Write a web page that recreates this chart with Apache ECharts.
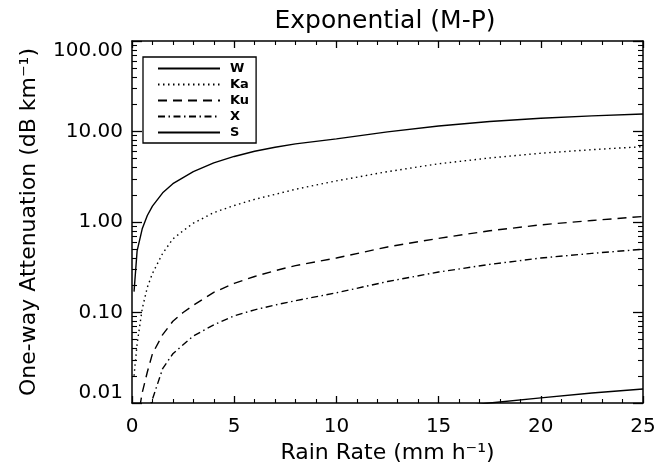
<!DOCTYPE html>
<html>
<head>
<meta charset="utf-8">
<script src="https://cdn.jsdelivr.net/npm/echarts@6/dist/echarts.min.js"></script>
<style>
  html, body { margin: 0; padding: 0; background: #fff; }
  #chart { width: 670px; height: 466px; }
</style>
</head>
<body>
<div id="chart"></div>
<script>
// ---- data ----
const rainRate = [0.1, 0.25, 0.5, 0.75, 1, 1.5, 2, 2.5, 3, 4, 5, 6, 7, 8, 10, 12.5, 15, 17.5, 20, 22.5, 25];
const attW  = [0.17, 0.48, 0.84, 1.18, 1.5, 2.1, 2.65, 3.1, 3.6, 4.5, 5.3, 6.05, 6.7, 7.3, 8.3, 9.9, 11.5, 12.9, 14.0, 14.9, 15.6];
const attKa = [0.02, 0.045, 0.11, 0.19, 0.27, 0.45, 0.65, 0.8, 0.97, 1.27, 1.52, 1.78, 2.02, 2.3, 2.85, 3.6, 4.4, 5.1, 5.75, 6.3, 6.8];
const attKu = [0.002, 0.006, 0.013, 0.022, 0.035, 0.057, 0.08, 0.1, 0.12, 0.167, 0.21, 0.25, 0.29, 0.33, 0.40, 0.53, 0.66, 0.8, 0.93, 1.04, 1.15];
const attX  = [0.0005, 0.0015, 0.004, 0.0075, 0.011, 0.024, 0.035, 0.044, 0.055, 0.073, 0.092, 0.107, 0.121, 0.135, 0.165, 0.22, 0.28, 0.34, 0.40, 0.45, 0.50];
const attS  = [0.00006, 0.00015, 0.0003, 0.00044, 0.0006, 0.0009, 0.0012, 0.0015, 0.0018, 0.0023, 0.0029, 0.0035, 0.0041, 0.0046, 0.0058, 0.0072, 0.0086, 0.0100, 0.0114, 0.0129, 0.0143];
const seriesNames = ['W', 'Ka', 'Ku', 'X', 'S'];
const xTicks = [0, 5, 10, 15, 20, 25];
const yTickLabels = ['0.01', '0.10', '1.00', '10.00', '100.00'];
const yMajorTicks = [0.01, 0.1, 1, 10, 100];
const yMinorTicks = [];
for (let d = 0; d < yMajorTicks.length - 1; d++) {
  for (let k = 2; k <= 9; k++) yMinorTicks.push(+(k * yMajorTicks[d]).toPrecision(3));
}

const titleText = 'Exponential (M-P)';
const xName = 'Rain Rate (mm h\u207B\u00B9)';
const yName = 'One-way Attenuation (dB km\u207B\u00B9)';

// ---- styling ----
const FONT = 'DejaVu Sans';
const BLACK = '#000';
const dashStyles = ['solid', [1.5, 3.5], [9, 6], [7, 3.5, 1.5, 3.5], 'solid'];
const values = [attW, attKa, attKu, attX, attS];

function xAxisCfg(pos, labels) {
  return {
    type: 'value', position: pos, min: 0, max: 25, interval: 5,
    axisLine: { show: true, onZero: false, lineStyle: { color: BLACK, width: 1.5 } },
    axisTick: { show: true, inside: true, length: 7, lineStyle: { color: BLACK, width: 1.3 } },
    minorTick: { show: true, splitNumber: 5, length: 4, lineStyle: { color: BLACK, width: 1.1 } },
    splitLine: { show: false }, minorSplitLine: { show: false },
    axisLabel: { show: labels, color: BLACK, fontFamily: FONT, fontSize: 20, margin: 14 },
    name: labels ? xName : '',
    nameLocation: 'middle', nameGap: 35,
    nameTextStyle: { color: BLACK, fontFamily: FONT, fontSize: 22 }
  };
}
function yAxisCfg(pos, labels, minor) {
  return {
    type: 'log', logBase: 10, min: 0.01, max: 100, position: pos,
    axisLine: { show: !minor, onZero: false, lineStyle: { color: BLACK, width: 1.5 } },
    axisTick: minor
      ? { show: true, inside: true, length: 5, customValues: yMinorTicks, lineStyle: { color: BLACK, width: 1.1 } }
      : { show: true, inside: true, length: 10, customValues: yMajorTicks, lineStyle: { color: BLACK, width: 1.3 } },
    minorTick: { show: false },
    splitLine: { show: false }, minorSplitLine: { show: false },
    axisLabel: {
      show: labels, color: BLACK, fontFamily: FONT, fontSize: 20, margin: 9,
      customValues: labels ? yMajorTicks : undefined,
      formatter: function (v) {
        const i = yMajorTicks.findIndex(t => Math.abs(Math.log10(t) - Math.log10(v)) < 1e-6);
        return i >= 0 ? yTickLabels[i] : '';
      },
      verticalAlignMinLabel: 'bottom',
      verticalAlignMaxLabel: 'top'
    },
    name: labels ? yName : '',
    nameLocation: 'middle', nameGap: 92,
    nameTextStyle: { color: BLACK, fontFamily: FONT, fontSize: 22 }
  };
}

const chart = echarts.init(document.getElementById('chart'), null, { renderer: 'canvas' });
chart.setOption({
  animation: false,
  backgroundColor: '#fff',
  color: [BLACK, BLACK, BLACK, BLACK, BLACK],
  grid: { left: 132, right: 27, top: 41, bottom: 63, containLabel: false, outerBoundsMode: 'none' },
  graphic: [{
    type: 'text', x: 385, y: 21,
    style: { text: titleText, fontFamily: FONT, fontSize: 25, fill: BLACK, align: 'center', verticalAlign: 'middle' }
  }],
  legend: {
    show: true, orient: 'vertical', left: 143, top: 57,
    data: seriesNames,
    borderColor: BLACK, borderWidth: 1.3, borderRadius: 0,
    padding: [5, 7, 4, 14],
    itemWidth: 62, itemHeight: 12, itemGap: 3,
    itemStyle: { opacity: 0, borderWidth: 0 },
    textStyle: { color: BLACK, fontFamily: FONT, fontSize: 13, fontWeight: 'bold', lineHeight: 12, padding: [0, 0, 0, 5] },
    selectedMode: false
  },
  xAxis: [xAxisCfg('bottom', true), xAxisCfg('top', false)],
  yAxis: [yAxisCfg('left', true, false), yAxisCfg('left', false, true), yAxisCfg('right', false, false), yAxisCfg('right', false, true)],
  series: seriesNames.map((name, s) => ({
    name: name, type: 'line', xAxisIndex: 0, yAxisIndex: 0,
    symbol: 'none', smooth: false, clip: true,
    lineStyle: { color: BLACK, width: 1.4, type: dashStyles[s] },
    itemStyle: { color: BLACK },
    data: rainRate.map((r, i) => [r, values[s][i]])
  }))
});
</script>
</body>
</html>
